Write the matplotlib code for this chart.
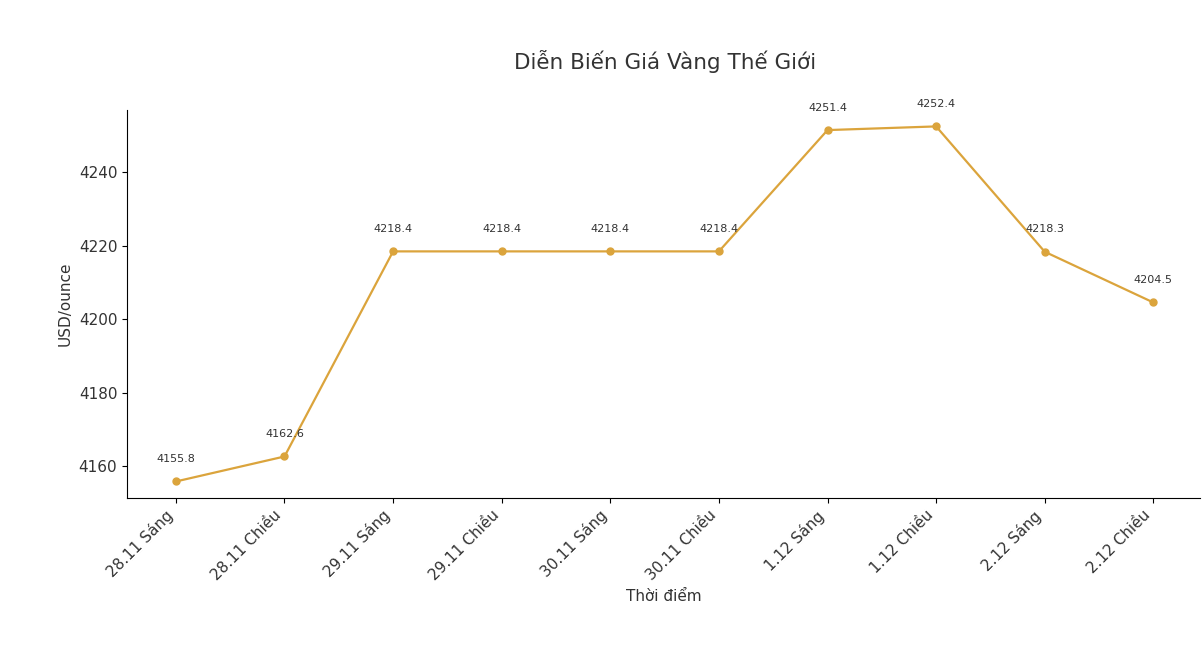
import matplotlib
matplotlib.use("Agg")
import matplotlib.pyplot as plt

labels = ["28.11 Sáng", "28.11 Chiều", "29.11 Sáng", "29.11 Chiều", "30.11 Sáng",
          "30.11 Chiều", "1.12 Sáng", "1.12 Chiều", "2.12 Sáng", "2.12 Chiều"]
values = [4155.8, 4162.6, 4218.4, 4218.4, 4218.4, 4218.4, 4251.4, 4252.4, 4218.3, 4204.5]

fig = plt.figure(figsize=(12.04, 6.54), dpi=100)
ax = fig.add_axes([0.1055, 0.2385, 0.8912, 0.5935])
color = "#DBA43C"
x = list(range(len(values)))
ax.plot(x, values, color=color, marker="o", markersize=5, linewidth=1.6)
for xi, v in zip(x, values):
    ax.annotate(f"{v}", (xi, v), textcoords="offset points", xytext=(0, 14),
                ha="center", fontsize=8, color="#333333")
ax.set_xlim(-0.45, 9.43)
ax.set_ylim(4151.3, 4256.9)
ax.set_yticks([4160, 4180, 4200, 4220, 4240])
ax.set_xticks(x)
ax.set_xticklabels(labels, rotation=45, ha="right", fontsize=11, color="#333333")
ax.tick_params(axis="y", labelsize=11, labelcolor="#333333")
ax.spines["top"].set_visible(False)
ax.spines["right"].set_visible(False)
ax.set_xlabel("Thời điểm", fontsize=11, color="#333333")
ax.set_ylabel("USD/ounce", fontsize=11, color="#333333")
fig.text(0.552, 0.906, "Diễn Biến Giá Vàng Thế Giới", ha="center", va="center", fontsize=15.5, color="#333333")
fig.savefig("out.png", dpi=100)
